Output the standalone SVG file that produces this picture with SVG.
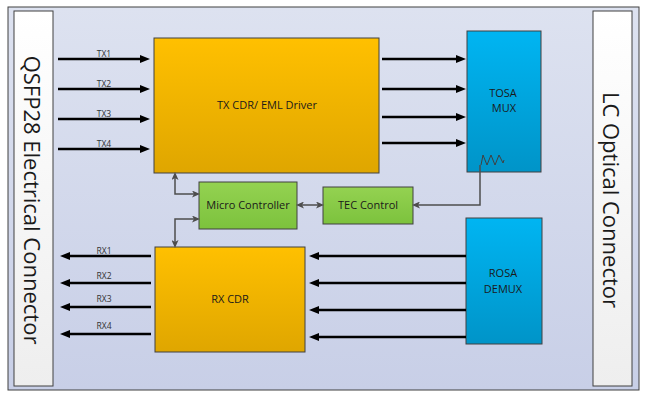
<svg xmlns="http://www.w3.org/2000/svg" width="647" height="404" viewBox="0 0 647 404">
<defs>
<linearGradient id="gBg" x1="0" y1="0" x2="0" y2="1"><stop offset="0" stop-color="#dde2f0"/><stop offset="1" stop-color="#c8cfe7"/></linearGradient>
<linearGradient id="gPanel" x1="0" y1="0" x2="0" y2="1"><stop offset="0" stop-color="#ffffff"/><stop offset="1" stop-color="#eeeeee"/></linearGradient>
<linearGradient id="gOrange" x1="0" y1="0" x2="0" y2="1"><stop offset="0" stop-color="#ffc000"/><stop offset="1" stop-color="#dfa600"/></linearGradient>
<linearGradient id="gBlue" x1="0" y1="0" x2="0" y2="1"><stop offset="0" stop-color="#00b5f2"/><stop offset="1" stop-color="#0094c8"/></linearGradient>
<linearGradient id="gGreen" x1="0" y1="0" x2="0" y2="1"><stop offset="0" stop-color="#94d251"/><stop offset="1" stop-color="#7cc23d"/></linearGradient>
<marker id="big" markerUnits="userSpaceOnUse" markerWidth="10" markerHeight="8" refX="4" refY="4" orient="auto"><path d="M0,0 L10,4 L0,8 z" fill="#000"/></marker>
<marker id="sm" markerUnits="userSpaceOnUse" markerWidth="8" markerHeight="7" refX="5" refY="3.5" orient="auto-start-reverse"><path d="M0,0 L8,3.5 L0,7 L2,3.5 z" fill="#4d4d4d"/></marker>
</defs>
<style>
.box{stroke:#404040;stroke-width:1}
.t{font-family:"Open Sans","Liberation Sans",sans-serif;fill:#1a1a1a;text-anchor:middle}
.bt{font-size:11px}
.lbl{font-size:8.5px;fill:#333}
.side{font-size:22px;dominant-baseline:central}
.thick{stroke:#000;stroke-width:2.5;fill:none;marker-end:url(#big)}
.thin{stroke:#4d4d4d;stroke-width:1.5;fill:none}
</style>
<rect x="8" y="7" width="631" height="383" fill="url(#gBg)" stroke="#404040" stroke-width="1"/>
<g id="qsfp28">
<rect class="box" x="14" y="11" width="39" height="375" fill="url(#gPanel)"/>
<text class="t side" transform="translate(33,200) rotate(90)">QSFP28 Electrical Connector</text>
</g>
<g id="lc-optical">
<rect class="box" x="593" y="11" width="39" height="375" fill="url(#gPanel)"/>
<text class="t side" transform="translate(612,200) rotate(90)">LC Optical Connector</text>
</g>
<g id="tx-cdr">
<rect class="box" x="154" y="38" width="225" height="135" fill="url(#gOrange)"/>
<text class="t bt" x="267" y="109">TX CDR/ EML Driver</text>
</g>
<g id="rx-cdr">
<rect class="box" x="155" y="247" width="150" height="105" fill="url(#gOrange)"/>
<text class="t bt" x="230" y="303">RX CDR</text>
</g>
<g id="tosa">
<rect class="box" x="467" y="31" width="74" height="141" fill="url(#gBlue)"/>
<text class="t bt" x="503" y="97">TOSA</text>
<text class="t bt" x="504" y="112">MUX</text>
<polyline points="481,165 483,155 487,165 491,155 495,165 499,155 503,163 504,160" fill="none" stroke="#404040" stroke-width="1"/>
</g>
<g id="rosa">
<rect class="box" x="466" y="218" width="76" height="126" fill="url(#gBlue)"/>
<text class="t bt" x="503" y="277">ROSA</text>
<text class="t bt" x="503" y="293">DEMUX</text>
</g>
<g id="micro">
<rect class="box" x="199" y="182" width="98" height="47" fill="url(#gGreen)"/>
<text class="t bt" x="248" y="209">Micro Controller</text>
</g>
<g id="tec">
<rect class="box" x="323" y="187" width="90" height="37" fill="url(#gGreen)"/>
<text class="t bt" x="368" y="209">TEC Control</text>
</g>
<g id="connectors">
<path class="thick" d="M58,59 H144"/>
<path class="thick" d="M58,89 H144"/>
<path class="thick" d="M58,119 H144"/>
<path class="thick" d="M58,149 H144"/>
<path class="thick" d="M382,59 H460"/>
<path class="thick" d="M382,89 H460"/>
<path class="thick" d="M382,117 H460"/>
<path class="thick" d="M382,143 H460"/>
<path class="thick" d="M151,256 H66"/>
<path class="thick" d="M151,283 H66"/>
<path class="thick" d="M151,307 H66"/>
<path class="thick" d="M151,334 H66"/>
<path class="thick" d="M466,256 H315"/>
<path class="thick" d="M466,283 H315"/>
<path class="thick" d="M466,310 H315"/>
<path class="thick" d="M466,337 H315"/>
<path class="thin" d="M175,175 V194 H197" marker-start="url(#sm)" marker-end="url(#sm)"/>
<path class="thin" d="M197,219 H175 V245" marker-start="url(#sm)" marker-end="url(#sm)"/>
<path class="thin" d="M299,205 H321" marker-start="url(#sm)" marker-end="url(#sm)"/>
<path class="thin" d="M480,165 V205 H415" marker-end="url(#sm)"/>
<text class="t lbl" x="104" y="57">TX1</text>
<text class="t lbl" x="104" y="87">TX2</text>
<text class="t lbl" x="104" y="117">TX3</text>
<text class="t lbl" x="104" y="147">TX4</text>
<text class="t lbl" x="104" y="254">RX1</text>
<text class="t lbl" x="104" y="279">RX2</text>
<text class="t lbl" x="104" y="302">RX3</text>
<text class="t lbl" x="104" y="329">RX4</text>
</g>
</svg>
